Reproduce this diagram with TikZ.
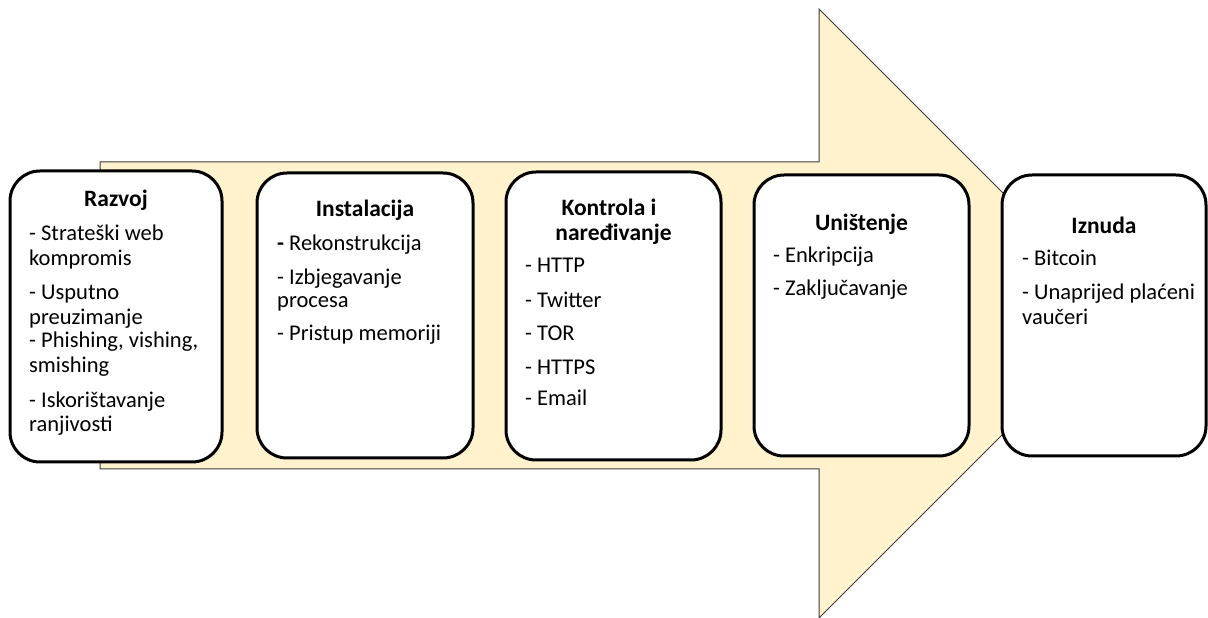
\documentclass[tikz,border=0pt]{standalone}
\usepackage{fontspec}
\setmainfont{Carlito}
\definecolor{arrowfill}{RGB}{255,242,204}
\definecolor{arrowline}{RGB}{60,60,60}
\begin{document}
\begin{tikzpicture}[x=1pt,y=1pt,
  stage/.style={draw=black,line width=3pt,rounded corners=30pt,fill=white},
  ttl/.style={anchor=mid,inner sep=0pt,font=\fontsize{23.5}{27}\selectfont\bfseries},
  itm/.style={anchor=mid west,inner sep=0pt,font=\fontsize{22.5}{26}\selectfont}]
\useasboundingbox (0,0) rectangle (1208,618);
% big arrow
\filldraw[fill=arrowfill,draw=arrowline,line width=1pt]
  (100,456) -- (819,456) -- (819,609) -- (1123.5,304.5) -- (819,0) -- (819,149) -- (100,149) -- cycle;
% stage boxes
\draw[stage] (10,156) rectangle (222,447);
\draw[stage] (257,160) rectangle (473,445);
\draw[stage] (506,158) rectangle (721,446);
\draw[stage] (754,162) rectangle (969,443);
\draw[stage] (1002,162) rectangle (1206,443);
% box 1
\node[ttl] (t1) at (116,414) {Razvoj};
\node[itm] (a1) at (29,380) {- Strateški web};
\node[itm] (a2) at (29,355) {kompromis};
\node[itm] (a3) at (29,321) {- Usputno};
\node[itm] (a4) at (29,296) {preuzimanje};
\node[itm] (a5) at (29,273) {- Phishing, vishing,};
\node[itm] (a6) at (29,248) {smishing};
\node[itm] (a7) at (29,213) {- Iskorištavanje};
\node[itm] (a8) at (29,189) {ranjivosti};
% box 2
\node[ttl] (t2) at (365,404) {Instalacija};
\node[itm] (b1) at (277,370) {\textbf{-} Rekonstrukcija};
\node[itm] (b2) at (277,336) {- Izbjegavanje};
\node[itm] (b3) at (277,313) {procesa};
\node[itm] (b4) at (277,280) {- Pristup memoriji};
% box 3
\node[ttl] (t3) at (609,405) {Kontrola i};
\node[ttl] (t3b) at (613.5,380) {naređivanje};
\node[itm] (c1) at (525,348) {- HTTP};
\node[itm] (c2) at (525,313) {- Twitter};
\node[itm] (c3) at (525,280) {- TOR};
\node[itm] (c4) at (525,246) {- HTTPS};
\node[itm] (c5) at (525,215) {- Email};
% box 4
\node[ttl] (t4) at (861.5,390) {Uništenje};
\node[itm] (d1) at (773,358) {- Enkripcija};
\node[itm] (d2) at (773,325) {- Zaključavanje};
% box 5
\node[ttl] (t5) at (1104,387) {Iznuda};
\node[itm] (e1) at (1022,355) {- Bitcoin};
\node[itm] (e2) at (1022,321) {- Unaprijed plaćeni};
\node[itm] (e3) at (1022,296) {vaučeri};
\end{tikzpicture}
\end{document}
